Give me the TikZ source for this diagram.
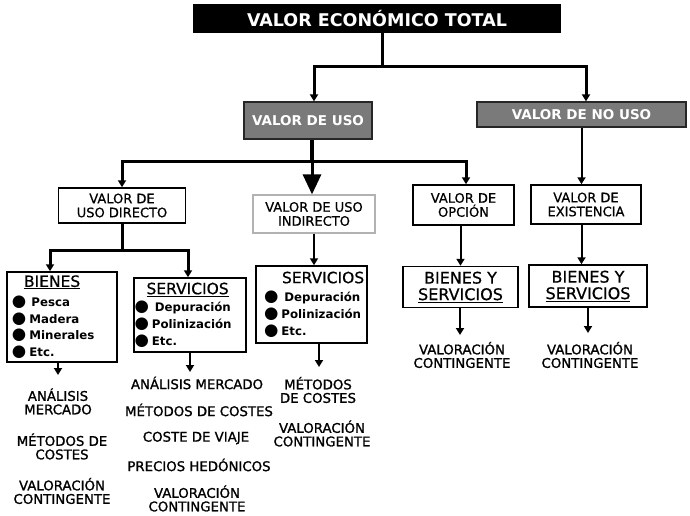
\documentclass[tikz,border=0pt]{standalone}
\usepackage{fontspec}
\setmainfont{DejaVu Sans}
\newfontfamily\lblfont[FakeBold=1.2]{DejaVu Sans}
\newfontfamily\boxfont[FakeBold=0.6]{DejaVu Sans}
\usetikzlibrary{arrows.meta,calc}
\definecolor{boxgray}{RGB}{122,122,122}
\newcommand{\myblt}{{\fontsize{16.5}{14}\selectfont\char"25CF}\hspace{3pt}}
\begin{document}
\begin{tikzpicture}[x=1pt,y=-1pt,
  >={Triangle[length=7pt,width=8pt]},
  box/.style={draw=black,line width=1.5pt,fill=white,inner sep=0pt,align=center,font=\boxfont\fontsize{13}{14}\selectfont},
  graybox/.style={draw=black!85,line width=1.3pt,fill=boxgray,inner sep=0pt,text=white,font=\bfseries\fontsize{13.5}{15}\selectfont},
  listbox/.style={draw=black,line width=1.5pt,fill=white,align=left,font=\bfseries\fontsize{11.8}{16.7}\selectfont},
  headbox/.style={box,font=\boxfont\fontsize{16}{16.5}\selectfont},
  lbl/.style={inner sep=0pt,align=center,font=\lblfont\fontsize{13.3}{13.5}\selectfont},
  conn/.style={line width=3pt},
  arr/.style={line width=2pt,->},
]
\useasboundingbox (0,0) rectangle (690,516);

% top level
\node[fill=black,minimum width=368pt,minimum height=29pt,inner sep=0pt,text=white,
      font=\bfseries\fontsize{17.5}{20}\selectfont] (vet) at (377,18.5) {VALOR ECONÓMICO TOTAL};
\node[graybox,minimum width=128pt,minimum height=37pt] (uso) at (308,120.5) {VALOR DE USO};
\node[graybox,minimum width=209pt,minimum height=25pt] (nouso) at (581.5,114.5) {VALOR DE NO USO};

% second level
\node[box,minimum width=127pt,minimum height=35pt] (directo) at (122,205.5) {VALOR DE\\USO DIRECTO};
\node[box,draw=gray!60,line width=1.2pt,minimum width=122pt,minimum height=38pt] (indirecto) at (314,214) {VALOR DE USO\\INDIRECTO};
\node[box,minimum width=101pt,minimum height=40pt] (opcion) at (463.5,205) {VALOR DE\\OPCIÓN};
\node[box,minimum width=110pt,minimum height=39pt] (existencia) at (586,204.5) {VALOR DE\\EXISTENCIA};

% third level
\node[listbox,minimum width=110pt,minimum height=90pt,text width=100pt,inner xsep=5pt,inner ysep=0pt] (bienes) at (62,317)
  {\hspace*{12pt}\mbox{\boxfont\mdseries\fontsize{15.5}{16.7}\selectfont\underline{BIENES}}\\[3pt]
   \myblt\hspace{2pt}Pesca\\ \myblt Madera\\ \myblt Minerales\\ \myblt Etc.};
\node[listbox,minimum width=112pt,minimum height=74pt,text width=111pt,inner xsep=0.5pt,inner ysep=0pt] (serv1) at (190,315)
  {\hspace*{12pt}\mbox{\boxfont\mdseries\fontsize{15.5}{17.5}\selectfont\underline{SERVICIOS}}\\[1pt]
   \myblt\hspace{3pt}Depuración\\ \myblt Polinización\\ \myblt Etc.};
\node[listbox,minimum width=111pt,minimum height=77pt,text width=103pt,inner xsep=4pt,inner ysep=0pt] (serv2) at (311.5,304.5)
  {\hspace*{22pt}\mbox{\boxfont\mdseries\fontsize{15.5}{16.5}\selectfont SERVICIOS}\\[2pt]
   \hspace*{4pt}\myblt\hspace{3pt}Depuración\\ \hspace*{4pt}\myblt Polinización\\ \hspace*{4pt}\myblt Etc.};
\node[headbox,minimum width=115pt,minimum height=41pt] (bys1) at (460.5,287) {BIENES Y\\\underline{SERVICIOS}};
\node[headbox,minimum width=118pt,minimum height=42pt] (bys2) at (588,286) {BIENES Y\\\underline{SERVICIOS}};

% connectors: top
\coordinate (j1) at (382,67);
\coordinate (jL) at (314,67);
\coordinate (jR) at (586,67);
\draw[conn] (vet.south -| j1) -- (j1);
\draw[conn,->] (j1) -| (uso.north -| jL);
\draw[conn,->] (j1) -| (nouso.north -| jR);

% connectors: second level
\coordinate (h2) at (312,161);
\coordinate (h2L) at (122,161);
\coordinate (h2R) at (466,161);
\draw[line width=4.5pt] (uso.south -| h2) -- (h2);
\draw[conn,->] (h2) -| (directo.north);
\draw[conn,->] (h2) -| (opcion.north -| h2R);
\draw[line width=3pt,-{Triangle[length=20pt,width=18pt]}] (h2) -- (indirecto.north -| h2);
\draw[arr] (nouso.south) -- (nouso.south |- existencia.north);

% connectors: third level
\coordinate (h3) at (122,250);
\coordinate (h3L) at (50,250);
\coordinate (h3R) at (188,250);
\draw[conn] (directo.south) -- (h3);
\draw[conn,->] (h3) -| (bienes.north -| h3L);
\draw[conn,->] (h3) -| (serv1.north -| h3R);
\draw[arr] (indirecto.south) -- (indirecto.south |- serv2.north);
\draw[arr] (opcion.south -| bys1.north) -- (bys1.north);
\draw[arr] (existencia.south -| nouso.south) -- (bys2.north -| nouso.south);

% connectors: to methods
\coordinate (e1) at (58,375);
\coordinate (e2) at (190,372);
\coordinate (e3) at (319,367);
\coordinate (e4) at (460,335);
\coordinate (e5) at (588,333);
\draw[arr] (bienes.south -| e1) -- (e1);
\draw[arr] (serv1.south -| e2) -- (e2);
\draw[arr] (serv2.south -| e3) -- (e3);
\draw[arr] (bys1.south -| e4) -- (e4);
\draw[arr] (bys2.south -| e5) -- (e5);

% labels
\node[lbl] (l1a) at (58,401.5) {ANÁLISIS\\MERCADO};
\node[lbl] (l1b) at (62,446.5) {MÉTODOS DE\\COSTES};
\node[lbl] (l1c) at (62,491) {VALORACIÓN\\CONTINGENTE};
\node[lbl] (l2a) at (197,383) {ANÁLISIS MERCADO};
\node[lbl] (l2b) at (199,410) {MÉTODOS DE COSTES};
\node[lbl] (l2c) at (196,438) {COSTE DE VIAJE};
\node[lbl] (l2d) at (199,465) {PRECIOS HEDÓNICOS};
\node[lbl] (l2e) at (197,498.5) {VALORACIÓN\\CONTINGENTE};
\node[lbl] (l3a) at (318,390) {MÉTODOS\\DE COSTES};
\node[lbl] (l3b) at (322,433.5) {VALORACIÓN\\CONTINGENTE};
\node[lbl] (l4) at (462,355) {VALORACIÓN\\CONTINGENTE};
\node[lbl] (l5) at (590,355) {VALORACIÓN\\CONTINGENTE};
\end{tikzpicture}
\end{document}
